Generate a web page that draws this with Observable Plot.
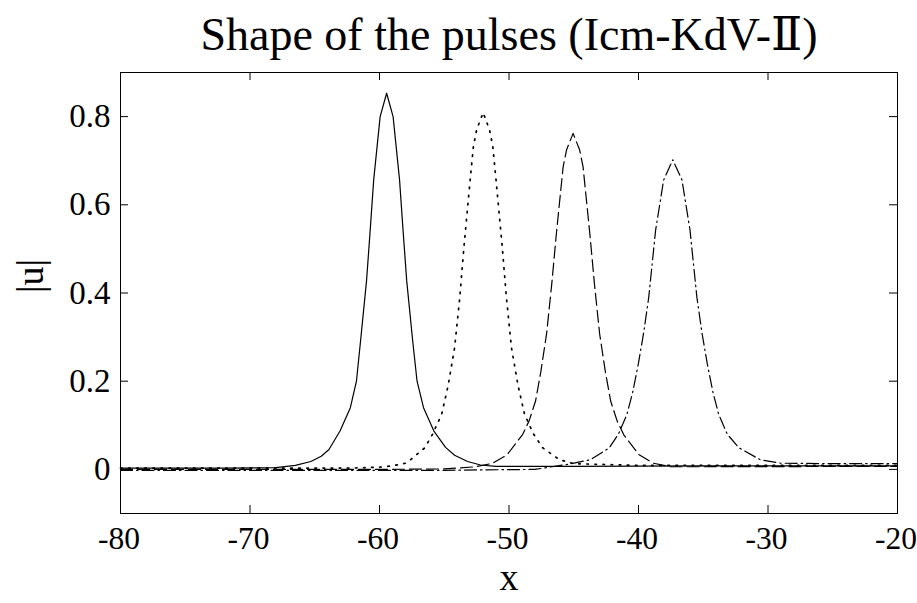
<!DOCTYPE html>
<html><head><meta charset="utf-8">
<script src="https://cdn.jsdelivr.net/npm/d3@7"></script>
<script src="https://cdn.jsdelivr.net/npm/@observablehq/plot@0.6"></script>
<style>
body{margin:0;background:#fff;}
#chart{width:917px;height:603px;}
</style></head><body><div id="chart"></div>
<script>
// ---- data ----
const titleText = "Shape of the pulses (Icm-KdV-Ⅱ)";
const xLabel = "x";
const yLabel = "|u|";
const xTicks = [-80, -70, -60, -50, -40, -30, -20];
const yTicks = [0, 0.2, 0.4, 0.6, 0.8];

const solidX = [-80, -72, -68, -66.5, -65.3, -64.5, -63.9, -63.05, -62.25, -61.78, -61.45, -61.0, -60.7, -60.45, -59.95, -59.45, -58.95, -58.45, -58.2, -57.9, -57.45, -57.1, -56.6, -55.8, -54.9, -54.2, -53.2, -52.2, -51.0, -45, -35, -20];
const solidY = [0.003, 0.003, 0.004, 0.009, 0.018, 0.03, 0.045, 0.087, 0.14, 0.2, 0.295, 0.428, 0.55, 0.656, 0.80, 0.853, 0.80, 0.656, 0.55, 0.428, 0.295, 0.2, 0.14, 0.087, 0.05, 0.032, 0.018, 0.01, 0.007, 0.007, 0.008, 0.008];

const dottedX = [-80, -70, -62, -60, -59, -58, -57.6, -56.5, -55.9, -55.2, -54.7, -54.2, -53.8, -53.48, -53.0, -52.75, -52.5, -52.0, -51.5, -51.25, -51.0, -50.52, -50.2, -49.81, -49.3, -48.8, -48.1, -47.4, -46.1, -45, -40, -30, -20];
const dottedY = [0.003, 0.003, 0.003, 0.005, 0.008, 0.014, 0.022, 0.049, 0.08, 0.125, 0.19, 0.276, 0.39, 0.504, 0.656, 0.732, 0.77, 0.809, 0.77, 0.732, 0.656, 0.504, 0.39, 0.276, 0.19, 0.125, 0.08, 0.049, 0.022, 0.013, 0.009, 0.009, 0.009];

const dashedX = [-80, -60, -55, -52.55, -51.25, -50.15, -48.95, -48.45, -47.95, -47.55, -47.1, -46.7, -46.34, -45.82, -45.55, -45.05, -44.55, -44.28, -43.76, -43.4, -43.0, -42.55, -42.15, -41.65, -41.15, -39.95, -38.85, -37.55, -35, -20];
const dashedY = [0.0, 0.0, 0.001, 0.006, 0.014, 0.033, 0.079, 0.11, 0.155, 0.22, 0.307, 0.42, 0.535, 0.686, 0.725, 0.762, 0.725, 0.686, 0.535, 0.42, 0.307, 0.22, 0.155, 0.11, 0.079, 0.033, 0.014, 0.006, 0.006, 0.007];

const dashdotX = [-80, -55, -48, -45.35, -43.7, -42.25, -41.55, -40.89, -40.45, -40.02, -39.6, -39.21, -38.68, -38.06, -37.35, -36.64, -36.02, -35.49, -35.1, -34.68, -34.25, -33.81, -33.15, -32.25, -30.6, -29.0, -25, -20];
const dashdotY = [-0.002, -0.002, 0.0, 0.012, 0.022, 0.049, 0.08, 0.125, 0.175, 0.238, 0.31, 0.39, 0.542, 0.656, 0.702, 0.656, 0.542, 0.39, 0.31, 0.238, 0.175, 0.125, 0.08, 0.049, 0.022, 0.014, 0.013, 0.013];

// ---- build tables ----
const toRows = (xs, ys) => xs.map((x, i) => ({x, y: ys[i]}));
const solid = toRows(solidX, solidY);
const dotted = toRows(dottedX, dottedY);
const dashed = toRows(dashedX, dashedY);
const dashdot = toRows(dashdotX, dashdotY);

const FONT = "'Liberation Serif','Times New Roman','DejaVu Serif',serif";
const W = 917, H = 603, ML = 120, MR = 20, MT = 72, MB = 90;
const FW = W - ML - MR, FH = H - MT - MB, TL = 8;

const chart = Plot.plot({
  width: W, height: H,
  marginLeft: ML, marginRight: MR, marginTop: MT, marginBottom: MB,
  style: {fontFamily: FONT, background: "white", color: "black"},
  x: {domain: [-80, -20]},
  y: {domain: [-0.1, 0.9]},
  marks: [
    Plot.line(solid, {x: "x", y: "y", stroke: "black", strokeWidth: 1.2}),
    Plot.line(dotted, {x: "x", y: "y", stroke: "black", strokeWidth: 1.7, strokeDasharray: "1.6,6.5"}),
    Plot.line(dashed, {x: "x", y: "y", stroke: "black", strokeWidth: 1.2, strokeDasharray: "12,5"}),
    Plot.line(dashdot, {x: "x", y: "y", stroke: "black", strokeWidth: 1.2, strokeDasharray: "12,4,1.5,4"}),
    Plot.frame({stroke: "black", strokeWidth: 1}),
    Plot.tickX(xTicks, {x: d => d, insetTop: FH - TL, stroke: "black"}),
    Plot.tickX(xTicks, {x: d => d, insetBottom: FH - TL, stroke: "black"}),
    Plot.tickY(yTicks, {y: d => d, insetRight: FW - TL, stroke: "black"}),
    Plot.tickY(yTicks, {y: d => d, insetLeft: FW - TL, stroke: "black"}),
    Plot.axisX(xTicks, {tickSize: 0, tickPadding: 13, fontSize: 31.5, dx: -1.5, tickFormat: d => String(d), label: null}),
    Plot.axisY(yTicks, {tickSize: 0, tickPadding: 10, fontSize: 33, tickFormat: d => String(d), label: null}),
    Plot.text([xLabel], {text: d => d, frameAnchor: "bottom", lineAnchor: "middle", dy: 64, fontSize: 38}),
    Plot.text([yLabel], {text: d => d, frameAnchor: "left", lineAnchor: "middle", dx: -90, rotate: -90, fontSize: 38}),
    Plot.text([titleText], {text: d => d, frameAnchor: "top", lineAnchor: "middle", dy: -37, fontSize: 46})
  ]
});
document.getElementById("chart").appendChild(chart);
</script>
</body></html>
